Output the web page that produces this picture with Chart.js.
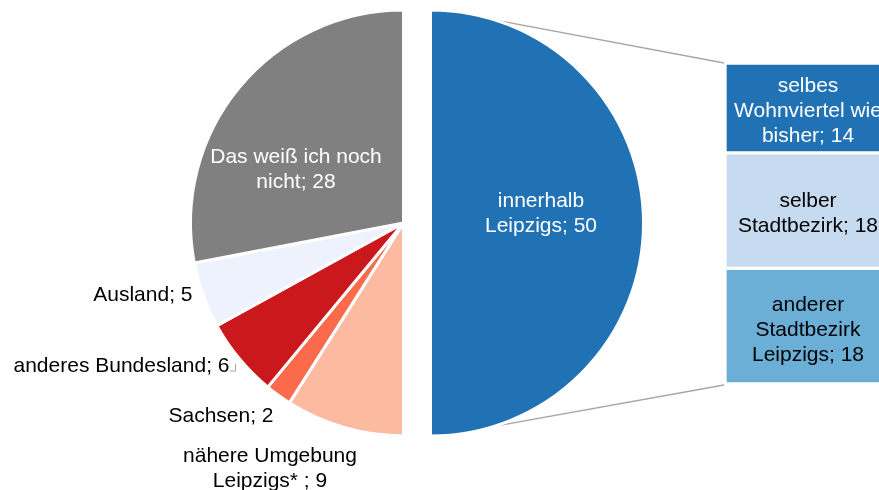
<!DOCTYPE html>
<html>
<head>
<meta charset="utf-8">
<script src="https://cdn.jsdelivr.net/npm/chart.js@4.4.1/dist/chart.umd.min.js"></script>
<style>
  html, body { margin: 0; padding: 0; background: #fff; overflow: hidden; }
  .chart { position: relative; width: 879px; height: 490px; overflow: hidden; }
  #pie { position: absolute; left: 0; top: 0; }
  #bar { position: absolute; left: 725px; top: 63px; }
</style>
</head>
<body>
<div class="chart">
  <canvas id="pie" width="879" height="490"></canvas>
  <canvas id="bar" width="166" height="321"></canvas>
</div>
<script>
// pie: clockwise from the top
const pieLabels = ['innerhalb\nLeipzigs', 'nähere Umgebung\nLeipzigs* ', 'Sachsen', 'anderes Bundesland', 'Ausland', 'Das weiß ich noch\nnicht'];
const pieValues = [50, 9, 2, 6, 5, 28];
const pieColors = ['#2171B5', '#FCBBA1', '#FB6A4A', '#CB181D', '#EDF2FD', '#808080'];
const pieTextColors = ['#fff', '#000', '#000', '#000', '#000', '#fff'];

// split of "innerhalb Leipzigs", top to bottom
const barLabels = ['selbes\nWohnviertel wie\nbisher', 'selber\nStadtbezirk', 'anderer\nStadtbezirk\nLeipzigs'];
const barValues = [14, 18, 18];
const barColors = ['#2171B5', '#C6DBEF', '#6BAED6'];
const barTextColors = ['#fff', '#000', '#000'];

const FONT = '21px "Liberation Sans", Arial, sans-serif';
const LINE_H = 25;
const TEXT_DY = 2;
const EXPLODE = 27;
const LINE_COLOR = '#A6A6A6';
const CONNECT_ANGLE = 12 * Math.PI / 180;

// where each pie label sits, relative to its slice centre
const labelPlace = [
    { dx: 110.5, dy: -11, align: 'center' },
    { dx: -133.5, dy: 244, align: 'center' },
    { dx: -182.5, dy: 191, align: 'center' },
    { dx: -174, dy: 141, align: 'right' },
    { dx: -211, dy: 70, align: 'right' },
    { dx: -107.5, dy: -55.5, align: 'center' }
];

const drawText = (ctx, text, x, y, align, color) => {
    const lines = text.split('\n');
    ctx.save();
    ctx.font = FONT;
    ctx.fillStyle = color;
    ctx.textAlign = align;
    ctx.textBaseline = 'middle';
    const y0 = y + TEXT_DY - (lines.length - 1) * LINE_H / 2;
    lines.forEach((line, i) => ctx.fillText(line, x, y0 + i * LINE_H));
    ctx.restore();
}

const barLabelPlugin = {
    id: 'barLabels',
    afterDatasetsDraw(chart) {
        const ctx = chart.ctx;
        chart.data.datasets.forEach((ds, i) => {
            const bar = chart.getDatasetMeta(i).data[0];
            const text = `${barLabels[i]}; ${ds.data[0]}`;
            drawText(ctx, text, bar.x, (bar.y + bar.base) / 2 + 1.5, 'center', barTextColors[i]);
        });
    }
}

const barChart = new Chart(document.getElementById('bar'), {
    type: 'bar',
    data: {
        labels: [''],
        datasets: barLabels.map((label, i) => ({
            label,
            data: [barValues[i]],
            backgroundColor: barColors[i],
            borderColor: '#fff',
            borderWidth: 2,
            borderSkipped: false,
            barPercentage: 1,
            categoryPercentage: 1
        }))
    },
    options: {
        responsive: false,
        animation: false,
        layout: { padding: 0 },
        plugins: { legend: { display: false }, tooltip: { enabled: false } },
        scales: {
            x: { display: false, stacked: true },
            y: { display: false, stacked: true, reverse: true, min: 0, max: 50 }
        }
    },
    plugins: [barLabelPlugin]
});

const piePlugin = {
    id: 'pieOfBar',
    beforeDatasetsDraw(chart) {
        const { chartArea } = chart;
        const arcs = chart.getDatasetMeta(0).data;
        const cx = (chartArea.left + chartArea.right) / 2;
        arcs[0].x = cx + EXPLODE;

        // connector lines to the split bar
        const canvas = barChart.canvas;
        const bars = barChart.getDatasetMeta(0).data;
        const lastBar = barChart.getDatasetMeta(barValues.length - 1).data[0];
        const bx = canvas.offsetLeft + bars[0].x - bars[0].width / 2 - 1;
        const topY = canvas.offsetTop + Math.min(bars[0].y, bars[0].base);
        const botY = canvas.offsetTop + Math.max(lastBar.y, lastBar.base) + 1;
        const a = arcs[0];
        const r = a.outerRadius - 1.5;
        const sx = a.x + r * Math.sin(CONNECT_ANGLE);
        const sy = r * Math.cos(CONNECT_ANGLE);
        const ctx = chart.ctx;
        ctx.save();
        ctx.strokeStyle = LINE_COLOR;
        ctx.lineWidth = 1.5;
        ctx.beginPath();
        ctx.moveTo(sx, a.y - sy);
        ctx.lineTo(bx, topY);
        ctx.moveTo(sx, a.y + sy);
        ctx.lineTo(bx, botY);
        ctx.stroke();
        ctx.restore();
    },
    afterDatasetsDraw(chart) {
        const ctx = chart.ctx;
        const arcs = chart.getDatasetMeta(0).data;
        arcs.forEach((arc, i) => {
            const p = labelPlace[i];
            const text = `${pieLabels[i]}; ${pieValues[i]}`;
            drawText(ctx, text, arc.x + p.dx, arc.y + p.dy, p.align, pieTextColors[i]);
        });

        // small leader for "anderes Bundesland"
        const c = arcs[3];
        ctx.save();
        ctx.strokeStyle = LINE_COLOR;
        ctx.lineWidth = 1;
        ctx.beginPath();
        ctx.moveTo(c.x - 173.5, c.y + 148);
        ctx.lineTo(c.x - 168, c.y + 148);
        ctx.lineTo(c.x - 168, c.y + 141);
        ctx.stroke();
        ctx.restore();
    }
}

new Chart(document.getElementById('pie'), {
    type: 'pie',
    data: {
        labels: pieLabels,
        datasets: [{
            data: pieValues,
            backgroundColor: pieColors,
            borderColor: '#fff',
            borderWidth: 3,
            radius: 213
        }]
    },
    options: {
        responsive: false,
        animation: false,
        layout: { padding: { left: 0, top: 0, right: 72, bottom: 44 } },
        plugins: { legend: { display: false }, tooltip: { enabled: false } }
    },
    plugins: [piePlugin]
});
</script>
</body>
</html>
